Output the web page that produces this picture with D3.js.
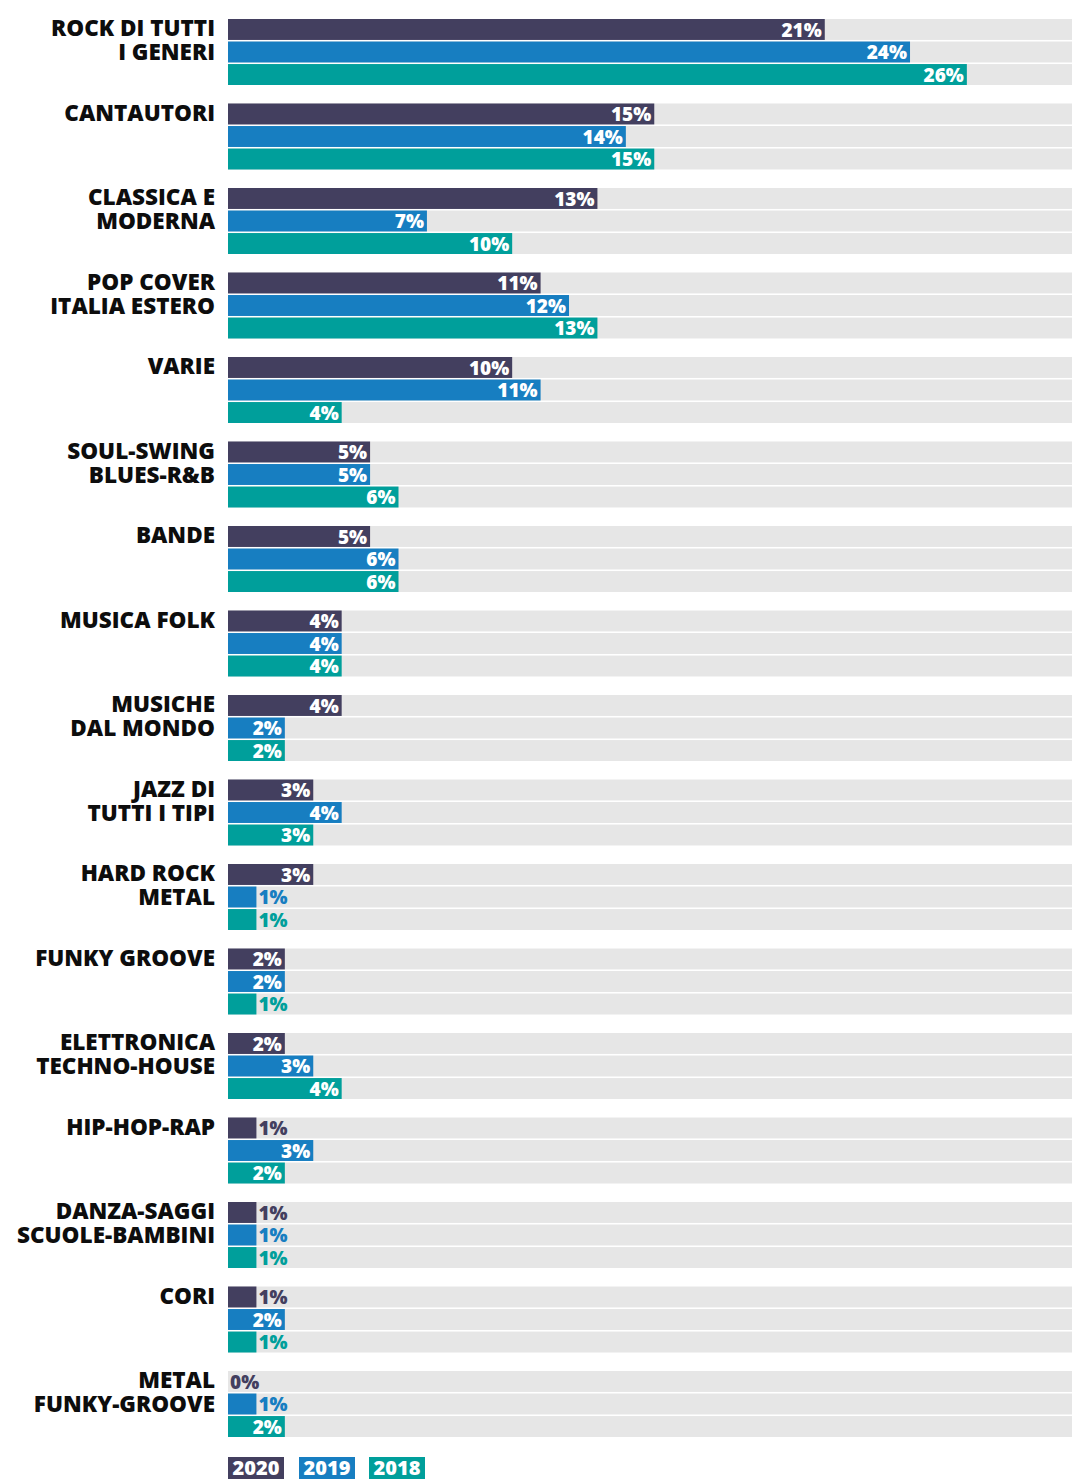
<!DOCTYPE html>
<html>
<head>
<meta charset="utf-8">
<script src="https://cdn.jsdelivr.net/npm/d3@7"></script>
<style>
  html, body { margin: 0; padding: 0; background: #ffffff; }
  svg { display: block; }
  text { font-family: "Open Sans", "Noto Sans", sans-serif; font-weight: 800; }
</style>
</head>
<body>
<script>
// Generi musicali: quota percentuale per anno
const categories = [
  ["ROCK DI TUTTI", "I GENERI"],
  ["CANTAUTORI"],
  ["CLASSICA E", "MODERNA"],
  ["POP COVER", "ITALIA ESTERO"],
  ["VARIE"],
  ["SOUL-SWING", "BLUES-R&B"],
  ["BANDE"],
  ["MUSICA FOLK"],
  ["MUSICHE", "DAL MONDO"],
  ["JAZZ DI", "TUTTI I TIPI"],
  ["HARD ROCK", "METAL"],
  ["FUNKY GROOVE"],
  ["ELETTRONICA", "TECHNO-HOUSE"],
  ["HIP-HOP-RAP"],
  ["DANZA-SAGGI", "SCUOLE-BAMBINI"],
  ["CORI"],
  ["METAL", "FUNKY-GROOVE"]
];
const years = ["2020", "2019", "2018"];
const values2020 = [21, 15, 13, 11, 10, 5, 5, 4, 4, 3, 3, 2, 2, 1, 1, 1, 0];
const values2019 = [24, 14, 7, 12, 11, 5, 6, 4, 2, 4, 1, 2, 3, 3, 1, 2, 1];
const values2018 = [26, 15, 10, 13, 4, 6, 6, 4, 2, 3, 1, 1, 4, 2, 1, 1, 2];
const colors = ["#433f5f", "#177ec1", "#009f9b"];

const W = 1072, H = 1479;
const series = [values2020, values2019, values2018];
const keys = categories.map(c => c.join(" "));

const svg = d3.select("body").append("svg")
  .attr("width", W).attr("height", H);

const x = d3.scaleLinear().domain([0, 29.7]).range([228, W]);
const y0 = d3.scaleBand().domain(keys).range([19, 1437]).paddingInner(0.219).paddingOuter(0);
const y1 = d3.scaleBand().domain(years).range([0, y0.bandwidth()]).paddingInner(0.07);
const color = d3.scaleOrdinal().domain(years).range(colors);

const rows = [];
keys.forEach((k, i) => {
  years.forEach((yr, j) => rows.push({ cat: k, year: yr, value: series[j][i] }));
});

// grey track behind each bar
svg.append("g").selectAll("rect.track")
  .data(rows).join("rect")
  .attr("class", "track")
  .attr("x", x(0))
  .attr("y", d => y0(d.cat) + y1(d.year))
  .attr("width", x.range()[1] - x(0))
  .attr("height", y1.bandwidth())
  .attr("fill", "#e6e6e6");

svg.append("g").selectAll("rect.bar")
  .data(rows).join("rect")
  .attr("class", "bar")
  .attr("x", x(0))
  .attr("y", d => y0(d.cat) + y1(d.year))
  .attr("width", d => x(d.value) - x(0))
  .attr("height", y1.bandwidth())
  .attr("fill", d => color(d.year));

// value labels: inside in white, outside in the bar colour for tiny bars
svg.append("g").selectAll("text.val")
  .data(rows).join("text")
  .attr("class", "val")
  .attr("x", d => d.value > 1 ? x(d.value) - 3 : x(d.value) + 2)
  .attr("y", d => y0(d.cat) + y1(d.year) + y1.bandwidth() / 2)
  .attr("dy", "0.37em")
  .attr("text-anchor", d => d.value > 1 ? "end" : "start")
  .attr("font-size", 19)
  .attr("fill", d => d.value > 1 ? "#ffffff" : color(d.year))
  .text(d => d.value + "%");

// category labels
const lab = svg.append("g").selectAll("text.cat")
  .data(categories).join("text")
  .attr("class", "cat")
  .attr("text-anchor", "end")
  .attr("font-size", 22.5)
  .attr("fill", "#0d0d0d");
lab.selectAll("tspan")
  .data((d, i) => d.map((line, j) => ({ line, j, key: keys[i] })))
  .join("tspan")
  .attr("x", 215)
  .attr("y", d => y0(d.key) + 17 + d.j * 24)
  .text(d => d.line);

// legend
const legX = [228, 299, 369];
const leg = svg.append("g").selectAll("g")
  .data(years).join("g")
  .attr("transform", (d, i) => `translate(${legX[i]},1457)`);
leg.append("rect")
  .attr("width", 56).attr("height", 22)
  .attr("fill", d => color(d));
leg.append("text")
  .attr("x", 28).attr("y", 11).attr("dy", "0.36em")
  .attr("text-anchor", "middle")
  .attr("font-size", 20)
  .attr("fill", "#ffffff")
  .text(d => d);
</script>
</body>
</html>
